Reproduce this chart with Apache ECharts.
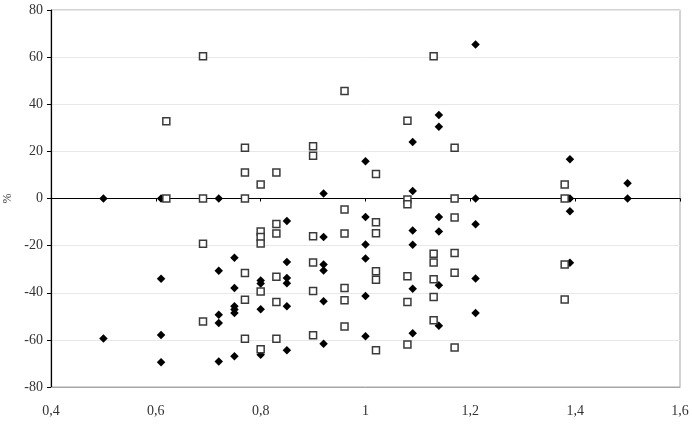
<!DOCTYPE html>
<html>
<head>
<meta charset="utf-8">
<script src="https://cdn.jsdelivr.net/npm/echarts@6/dist/echarts.min.js"></script>
<style>
  html, body { margin: 0; padding: 0; background: #fff; }
  #chart { width: 692px; height: 433px; }
</style>
</head>
<body>
<div id="chart"></div>
<script>
// x ticks and y ticks
const xTicks = [0.4, 0.6, 0.8, 1.0, 1.2, 1.4, 1.6];
const yTicks = [-80, -60, -40, -20, 0, 20, 40, 60, 80];

// filled diamonds [x, %]
const diamonds = [
  [0.5, 0], [0.5, -59.4],
  [0.61, 0], [0.61, -34.1], [0.61, -57.9], [0.61, -69.5],
  [0.72, 0], [0.72, -30.7], [0.72, -49.3], [0.72, -52.8], [0.72, -69.2],
  [0.75, -25.1], [0.75, -38], [0.75, -45.7], [0.75, -47.1], [0.75, -48.6], [0.75, -67],
  [0.8, -34.8], [0.8, -36.1], [0.8, -47], [0.8, -66.3],
  [0.85, -9.5], [0.85, -26.9], [0.85, -33.7], [0.85, -36], [0.85, -45.7], [0.85, -64.4],
  [0.92, 2.1], [0.92, -16.3], [0.92, -28], [0.92, -30.6], [0.92, -43.6], [0.92, -61.6],
  [1.0, 15.8], [1.0, -7.8], [1.0, -19.5], [1.0, -25.5], [1.0, -41.4], [1.0, -58.5],
  [1.09, 24], [1.09, 3.2], [1.09, -13.6], [1.09, -19.6], [1.09, -38.3], [1.09, -57.2],
  [1.14, 35.4], [1.14, 30.4], [1.14, -7.8], [1.14, -14], [1.14, -36.8], [1.14, -54],
  [1.21, 65.4], [1.21, 0], [1.21, -10.9], [1.21, -34], [1.21, -48.6],
  [1.39, 16.7], [1.39, 0], [1.39, -5.4], [1.39, -27.3],
  [1.5, 6.5], [1.5, 0]
];

// open squares [x, %]
const squares = [
  [0.62, 32.8], [0.62, 0],
  [0.69, 60.4], [0.69, 0], [0.69, -19.2], [0.69, -52.2],
  [0.77, 21.5], [0.77, 11], [0.77, 0], [0.77, -31.6], [0.77, -43], [0.77, -59.5],
  [0.8, 5.9], [0.8, -14], [0.8, -16.3], [0.8, -19.1], [0.8, -39.5], [0.8, -64],
  [0.83, 11], [0.83, -10.8], [0.83, -14.9], [0.83, -33.2], [0.83, -43.9], [0.83, -59.5],
  [0.9, 22.2], [0.9, 18.1], [0.9, -16], [0.9, -27.2], [0.9, -39.3], [0.9, -58],
  [0.96, 45.6], [0.96, -4.7], [0.96, -14.9], [0.96, -38], [0.96, -43.2], [0.96, -54.3],
  [1.02, 10.4], [1.02, -10.1], [1.02, -14.7], [1.02, -30.9], [1.02, -34.5], [1.02, -64.4],
  [1.08, 33], [1.08, -0.4], [1.08, -2.4], [1.08, -33], [1.08, -43.9], [1.08, -62],
  [1.13, 60.4], [1.13, -23.4], [1.13, -27.2], [1.13, -34.3], [1.13, -41.8], [1.13, -51.7],
  [1.17, 21.5], [1.17, 0], [1.17, -8.1], [1.17, -23.1], [1.17, -31.5], [1.17, -63.2],
  [1.38, 5.9], [1.38, 0], [1.38, -28], [1.38, -42.9]
];

const font = 'Liberation Serif';
const xMin = xTicks[0];
const xMax = xTicks[xTicks.length - 1];
const yMin = yTicks[0];
const yMax = yTicks[yTicks.length - 1];

const chart = echarts.init(document.getElementById('chart'));

const option = {
  animation: false,
  grid: {
    left: 51, right: 12, top: 10, bottom: 46,
    outerBoundsMode: 'none',
    containLabel: false,
    show: true,
    borderColor: '#a6a6a6',
    borderWidth: 1
  },
  xAxis: [
    {
      type: 'value',
      position: 'bottom',
      min: xMin, max: xMax, interval: 0.2,
      axisLine: { onZero: false, lineStyle: { color: '#a6a6a6', width: 1 } },
      axisTick: { show: false },
      splitLine: { show: false },
      axisLabel: {
        margin: 17,
        color: '#333',
        fontFamily: font,
        fontSize: 14,
        formatter: v => String(+v.toFixed(1)).replace('.', ',')
      }
    },
    {
      // the zero line with its small ticks
      type: 'value',
      position: 'top',
      min: xMin, max: xMax, interval: 0.2,
      axisLine: { onZero: true, lineStyle: { color: '#000', width: 1.2 } },
      axisTick: { show: true, inside: true, length: 3, lineStyle: { color: '#000' } },
      splitLine: { show: false },
      axisLabel: { show: false }
    }
  ],
  yAxis: {
    type: 'value',
    min: yMin, max: yMax, interval: 20,
    name: '%',
    nameLocation: 'middle',
    nameRotate: 90,
    nameGap: 37,
    nameTextStyle: { color: '#333', fontFamily: font, fontSize: 12 },
    axisLine: { onZero: false, lineStyle: { color: '#000', width: 1.2 } },
    axisTick: { show: true, length: 4, lineStyle: { color: '#000' } },
    splitLine: { show: true, lineStyle: { color: '#e8e8e8', width: 1 } },
    axisLabel: { margin: 8, color: '#333', fontFamily: font, fontSize: 14 }
  },
  series: [
    {
      type: 'scatter',
      xAxisIndex: 0,
      symbol: 'diamond',
      symbolSize: 8.5,
      itemStyle: { color: '#000', opacity: 1 },
      data: diamonds
    },
    {
      type: 'scatter',
      xAxisIndex: 0,
      symbol: 'rect',
      symbolSize: 7,
      itemStyle: { color: '#fff', borderColor: '#3a3a3a', borderWidth: 1.5, opacity: 1 },
      data: squares
    }
  ]
};
chart.setOption(option);
</script>
</body>
</html>
